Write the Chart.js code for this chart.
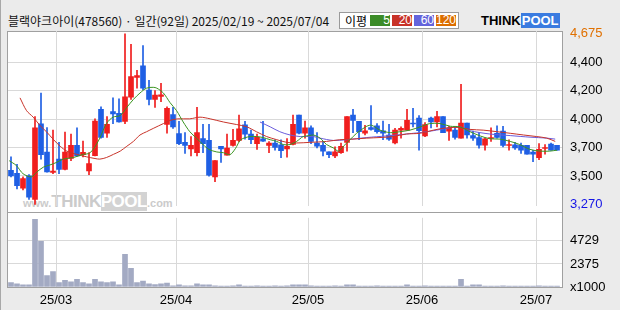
<!DOCTYPE html>
<html>
<head>
<meta charset="utf-8">
<script src="https://cdn.jsdelivr.net/npm/chart.js@4"></script>
<style>
html, body { margin: 0; padding: 0; }
body { width: 620px; height: 310px; background: #ebebeb; position: relative; overflow: hidden; font-family: 'Noto Sans CJK KR', sans-serif; }
#frame { position: absolute; left: 0; top: 0; width: 620px; height: 310px; border-left: 1px solid #a8a8a8; box-sizing: border-box; }
#title { position: absolute; left: 8px; top: 14px; font-size: 12px; line-height: 14px; color: #111; white-space: nowrap; }
#legend { position: absolute; left: 339px; top: 12px; width: 120px; height: 17px; background: #fff; border: 1px solid #9a9a9a; box-sizing: border-box; font-size: 12px; }
#legend .lbl { position: absolute; left: 5px; top: 0; line-height: 15px; }
#legend .sw { position: absolute; top: 2px; height: 11px; width: 20px; color: #fff; font-family: 'Liberation Sans', sans-serif; font-size: 12px; line-height: 11px; text-align: right; }
#logo { position: absolute; left: 481px; top: 14px; font-family: 'Liberation Sans', sans-serif; font-weight: bold; font-size: 13px; line-height: 13px; white-space: nowrap; }
#logo .pool { background: #3a7be0; color: #fff; padding: 0 1px; }
#plot { position: absolute; left: 7px; top: 31px; width: 556px; height: 257px; background: #fff; border: 1px solid #a0a0a0; box-sizing: border-box; }
#sep { position: absolute; left: 7px; top: 212px; width: 556px; height: 1px; background: #a0a0a0; }
#wm { position: absolute; left: 23px; top: 193px; font-family: 'Liberation Sans', sans-serif; font-weight: bold; color: #cbcbcb; white-space: nowrap; line-height: 17px; }
#wm .s { font-size: 11px; }
#wm .b { font-size: 17px; letter-spacing: -0.5px; }
#wm .p { font-size: 17px; letter-spacing: -0.5px; background: #d3d3d3; color: #fff; }
canvas { position: absolute; left: 0; }
#priceChart { top: 0; }
#volChart { top: 202px; }
</style>
</head>
<body>
<div id="frame"></div>
<div id="title">블랙야크아이(478560) · 일간(92일) 2025/02/19 ~ 2025/07/04</div>
<div id="legend">
  <span class="lbl">이평</span>
  <span class="sw" style="left:30px;background:#3c8c28">5</span>
  <span class="sw" style="left:52px;background:#c83228">20</span>
  <span class="sw" style="left:74px;background:#6464dc">60</span>
  <span class="sw" style="left:96px;background:#dc6e00">120</span>
</div>
<div id="logo">THINK<span class="pool">POOL</span></div>
<div id="plot"></div>
<div id="sep"></div>
<div id="wm"><span class="s">www.</span><span class="b">THINK</span><span class="p">POOL</span><span class="s">.com</span></div>
<canvas id="priceChart" width="620" height="222"></canvas>
<canvas id="volChart" width="620" height="108"></canvas>
<script>
// trading days 2025/02/19 ~ 2025/07/04 (MM/DD)
const dates = [
  '02/19','02/20','02/21','02/24','02/25','02/26','02/27','02/28',
  '03/04','03/05','03/06','03/07','03/10','03/11','03/12','03/13','03/14','03/17','03/18','03/19','03/20','03/21','03/24','03/25','03/26','03/27','03/28','03/31',
  '04/01','04/02','04/03','04/04','04/07','04/08','04/09','04/10','04/11','04/14','04/15','04/16','04/17','04/18','04/21','04/22','04/23','04/24','04/25','04/28','04/29','04/30',
  '05/02','05/07','05/08','05/09','05/12','05/13','05/14','05/15','05/16','05/19','05/20','05/21','05/22','05/23','05/26','05/27','05/28','05/29','05/30',
  '06/02','06/04','06/05','06/09','06/10','06/11','06/12','06/13','06/16','06/17','06/18','06/19','06/20','06/23','06/24','06/25','06/26','06/27','06/30',
  '07/01','07/02','07/03','07/04'
];

const opens = [
  3550,3526,3404,3505,3310,3933,3702,3534,3643,3558,
  3648,3757,3680,3545,3672,4053,3856,4034,4021,3954,
  4154,4316,4412,4212,4135,4159,3930,4010,3853,3781,
  3728,3696,3813,3797,3497,3749,3675,3755,3797,3925,
  3850,3771,3811,3755,3776,3760,3728,3765,4005,3856,
  3901,3776,3757,3704,3670,3696,3781,4005,3954,3856,
  3904,3917,3877,3842,3776,3882,3882,3941,3981,3834,
  3981,3949,3994,3874,3882,3816,3941,3837,3821,3757,
  3813,3856,3874,3755,3760,3757,3757,3702,3656,3731,
  3768,3757
];
const highs = [
  3662,3600,3497,3515,3994,4188,3904,3882,3781,3866,
  3850,3901,3792,3696,3975,4074,3994,4148,4140,4675,
  4590,4374,4579,4292,4207,4268,4074,4069,3954,3861,
  3829,4069,3930,3930,3630,3749,3850,3888,4005,3954,
  3882,3850,3954,3787,3803,3803,3813,4005,4005,3957,
  3917,3861,3789,3704,3744,3776,3994,4053,3954,3922,
  4085,3936,3957,3930,3896,3909,4053,4061,4002,3944,
  3989,4037,3994,3914,3896,4260,3941,3874,3861,3816,
  3901,3917,3914,3803,3781,3776,3757,3715,3771,3763,
  3776,3757
];
const lows = [
  3497,3398,3390,3310,3270,3643,3535,3523,3523,3555,
  3630,3668,3662,3515,3670,3816,3821,3936,3947,3936,
  4135,4228,4215,4090,4069,4116,3856,3896,3763,3691,
  3670,3670,3696,3502,3457,3616,3675,3749,3787,3808,
  3771,3723,3789,3696,3717,3654,3659,3760,3850,3816,
  3771,3736,3670,3656,3656,3691,3709,3861,3803,3842,
  3882,3856,3803,3797,3768,3816,3882,3909,3717,3829,
  3901,3909,3861,3797,3808,3816,3816,3797,3733,3717,
  3789,3816,3744,3717,3723,3691,3683,3622,3638,3683,
  3717,3717
];
const closes = [
  3505,3425,3483,3329,3901,3680,3537,3545,3558,3702,
  3757,3670,3699,3606,3957,3821,3930,4015,3949,4156,
  4324,4332,4228,4135,4170,4172,4061,3909,3771,3755,
  3757,3861,3771,3510,3630,3728,3733,3797,3893,3848,
  3803,3824,3792,3776,3739,3712,3749,3930,3856,3901,
  3789,3749,3709,3680,3704,3749,3994,3962,3869,3877,
  3888,3869,3856,3808,3882,3896,3962,3933,3877,3928,
  3949,3994,3861,3896,3821,3941,3842,3816,3757,3811,
  3821,3821,3755,3763,3736,3717,3683,3683,3723,3739,
  3717,3717
];
// volume, thousand shares
const volumes = [
  441,315,220,220,6930,4694,1166,1575,441,693,
  536,788,441,315,788,536,441,536,220,3339,
  1922,441,599,315,252,315,410,126,220,110,
  110,315,220,220,110,100,100,110,220,100,
  100,110,100,100,110,100,110,220,220,220,
  110,100,100,100,110,100,220,220,100,100,
  100,110,100,100,100,100,220,100,100,110,
  100,100,100,100,100,788,100,220,220,100,
  100,100,110,100,100,100,100,100,110,100,
  100,100
];

// moving averages: [day index, price]
const ma5 = [
  [-0.3,3630],[0.9,3590],[2.0,3523],[3.4,3497],[4.3,3537],[5.4,3577],[6.5,3595],[7.6,3616],
  [8.7,3643],[10.4,3656],[12.1,3683],[12.9,3688],[13.7,3723],[14.8,3816],[15.9,3936],[17.0,3989],
  [18.2,4002],[19.3,4069],[20.4,4135],[21.5,4188],[22.6,4228],[23.7,4235],[24.3,4228],[25.4,4188],
  [26.5,4109],[27.6,4042],[28.7,3949],[29.8,3869],[30.9,3816],[32.0,3763],[33.0,3723],[34.3,3702],
  [35.4,3696],[36.5,3680],[37.4,3730],[38.3,3803],[39.8,3829],[40.9,3829],[42.0,3821],[43.2,3803],
  [44.3,3789],[45.4,3763],[46.5,3763],[47.6,3789],[48.7,3829],[49.8,3837],[50.4,3842],[51.5,3816],
  [52.6,3763],[53.7,3736],[54.6,3709],[55.4,3749],[56.5,3803],[57.6,3856],[59.3,3914],[60.1,3922],
  [61.5,3882],[63.2,3861],[64.8,3869],[66.5,3882],[68.2,3909],[69.8,3936],[71.5,3936],[73.2,3914],
  [74.8,3909],[76.5,3869],[78.2,3834],[79.8,3811],[81.5,3808],[83.2,3789],[84.8,3763],[86.5,3723],
  [88.2,3709],[89.8,3709],[91.0,3717]
];
const ma20 = [
  [1.5,4148],[2.6,4042],[3.7,3989],[4.8,3922],[5.9,3869],[7.1,3803],[8.2,3749],[9.3,3709],
  [10.9,3683],[12.6,3662],[14.0,3648],[14.8,3643],[15.9,3656],[17.1,3683],[18.2,3709],[19.3,3749],
  [20.4,3789],[21.5,3842],[22.6,3869],[23.7,3896],[25.4,3936],[26.5,3962],[27.8,3975],[29.8,3975],
  [31.5,3989],[33.2,3975],[35.4,3949],[37.6,3928],[39.3,3909],[40.9,3869],[42.6,3829],[44.3,3803],
  [46.0,3781],[47.6,3776],[49.8,3781],[52.6,3789],[54.8,3803],[57.0,3808],[59.3,3816],[61.5,3821],
  [63.7,3829],[65.9,3850],[68.2,3856],[70.4,3882],[72.6,3901],[74.8,3904],[76.5,3888],[78.7,3882],
  [81.0,3869],[83.2,3856],[85.4,3842],[87.6,3829],[89.3,3816],[90.7,3789]
];
const ma60 = [
  [41.5,3949],[43.2,3909],[44.8,3869],[46.5,3842],[48.2,3829],[50.4,3829],[51.5,3816],[53.7,3797],
  [55.9,3803],[59.3,3821],[62.6,3834],[65.9,3850],[69.3,3869],[72.6,3896],[74.8,3909],[76.5,3877],
  [79.8,3850],[83.2,3837],[86.5,3824],[89.3,3816],[90.7,3808]
];

// price axis: evenly spaced grid lines and the labels printed on them
const priceGrid = [3504, 3738, 3972, 4206, 4440];
const priceGridLabels = ['3,500', '3,700', '4,000', '4,200', '4,400'];
const priceHigh = 4675;
const priceLow = 3270;
const volGrid = [0, 2364.5, 4729];
const volGridLabels = ['x1000', '2375', '4729'];

const UP = '#f01e1e', DOWN = '#1f5fe4';
const candleColor = closes.map((c, i) => c >= opens[i] ? UP : DOWN);
const axisFont = { family: "'Liberation Sans', sans-serif", size: 13 };

// month boundaries
const monthTicks = [];
dates.forEach((d, i) => {
  if (i > 0 && d.slice(0, 2) !== dates[i - 1].slice(0, 2)) {
    monthTicks.push({ value: i - 0.5, label: '25/' + d.slice(0, 2) });
  }
});

function xAxis(showLabels) {
  return {
    type: 'linear', min: -0.5, max: 91.83, offset: false,
    afterBuildTicks: s => { s.ticks = monthTicks.map(t => ({ value: t.value })); },
    afterFit: s => { s.height = showLabels ? 23 : 0; },
    grid: { color: '#d9d9d9', offset: false, drawTicks: false },
    border: { display: false },
    ticks: {
      display: showLabels, autoSkip: false, maxRotation: 0, padding: 6, color: '#000', font: axisFont,
      callback: v => { const t = monthTicks.find(m => m.value === v); return t ? t.label : ''; }
    }
  };
}

const toXY = arr => arr.map(p => ({ x: p[0], y: p[1] }));
const maLine = (data, color) => ({
  type: 'line', data: toXY(data), borderColor: color, borderWidth: 1,
  pointRadius: 0, tension: 0.3, order: 0
});

new Chart(document.getElementById('priceChart'), {
  type: 'bar',
  data: {
    datasets: [
      maLine(ma5, '#3a9420'),
      maLine(ma20, '#c8342a'),
      maLine(ma60, '#6a5cdc'),
      {
        data: opens.map((o, i) => ({ x: i, y: [o, closes[i]] })),
        backgroundColor: candleColor, barThickness: 5, grouped: false, order: 1
      },
      {
        data: lows.map((l, i) => ({ x: i, y: [l, highs[i]] })),
        backgroundColor: candleColor, barThickness: 1, grouped: false, order: 2
      }
    ]
  },
  options: {
    responsive: false, animation: false,
    layout: { padding: { left: 8, top: 31, right: 0, bottom: 10 } },
    plugins: { legend: { display: false }, tooltip: { enabled: false } },
    scales: {
      x: xAxis(false),
      y: {
        position: 'right', min: 3255, max: 4699,
        afterBuildTicks: s => { s.ticks = [priceLow, ...priceGrid, priceHigh].map(v => ({ value: v })); },
        afterFit: s => { s.width = 58; },
        grid: { drawTicks: false, color: c => (c.tick && priceGrid.includes(c.tick.value)) ? '#d9d9d9' : 'rgba(0,0,0,0)' },
        border: { display: false },
        ticks: {
          autoSkip: false, padding: 8, font: axisFont,
          color: c => c.tick.value === priceHigh ? '#e07000' : (c.tick.value === priceLow ? '#1414e6' : '#000'),
          callback: v => (v === priceHigh || v === priceLow) ? v.toLocaleString('en-US') : priceGridLabels[priceGrid.indexOf(v)]
        }
      }
    }
  }
});

new Chart(document.getElementById('volChart'), {
  type: 'bar',
  data: {
    datasets: [{
      data: volumes.map((v, i) => ({ x: i, y: v })),
      backgroundColor: '#a3aac3', barThickness: 5, grouped: false
    }]
  },
  options: {
    responsive: false, animation: false,
    layout: { padding: { left: 8, top: 10, right: 0, bottom: 0 } },
    plugins: { legend: { display: false }, tooltip: { enabled: false } },
    scales: {
      x: xAxis(true),
      y: {
        position: 'right', min: 0, max: 7093.5,
        afterBuildTicks: s => { s.ticks = volGrid.map(v => ({ value: v })); },
        afterFit: s => { s.width = 58; },
        grid: { drawTicks: false, color: c => (c.tick && c.tick.value > 0) ? '#d9d9d9' : 'rgba(0,0,0,0)' },
        border: { display: false },
        ticks: {
          autoSkip: false, padding: 8, font: axisFont, color: '#000',
          callback: v => volGridLabels[volGrid.indexOf(v)]
        }
      }
    }
  }
});
</script>
</body>
</html>
